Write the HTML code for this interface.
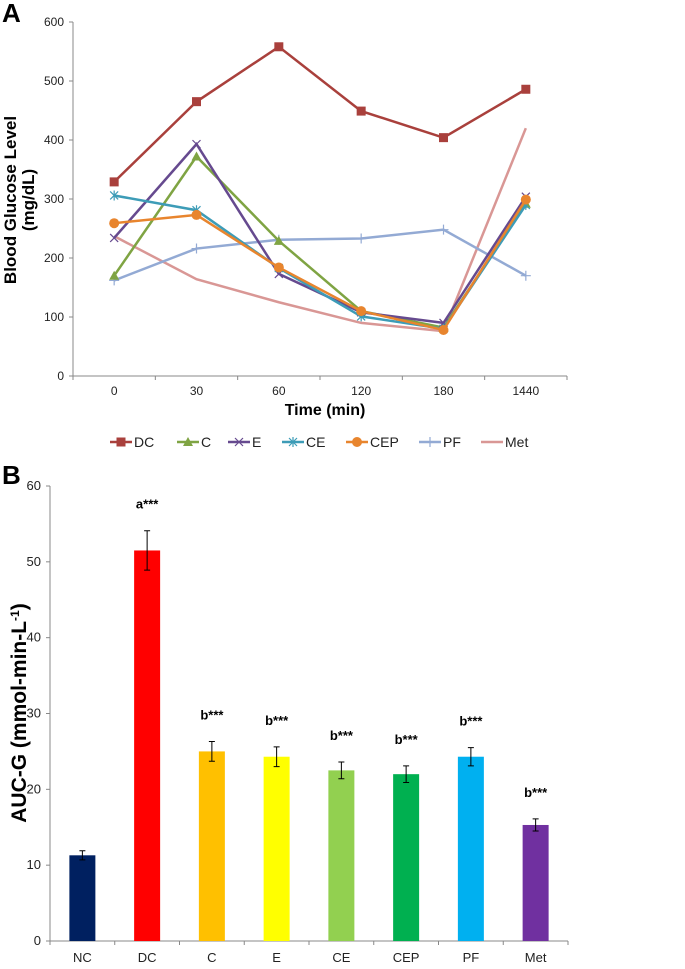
<!DOCTYPE html>
<html><head><meta charset="utf-8"><style>
body{margin:0;background:#fff;width:685px;height:964px;overflow:hidden}
svg{font-family:"Liberation Sans",sans-serif}
</style></head><body>
<svg id="chart" width="685" height="964">
<text x="2" y="22" font-size="26" font-weight="bold">A</text>
<text x="2" y="484" font-size="26" font-weight="bold">B</text>
<g id="pa"></g>
<g id="pb"></g>
</svg>
<script>
const times=["0","30","60","120","180","1440"];
const serDC=[329,465,558,449,404,486];
const serC=[170,372,229,110,82,292];
const serE=[234,393,173,108,90,304];
const serCE=[306,281,183,101,80,290];
const serCEP=[259,273,184,110,78,299];
const serPF=[162,216,231,233,248,170];
const serMet=[237,164,125,90,76,420];
const yTicksA=[0,100,200,300,400,500,600];
const groups=["NC","DC","C","E","CE","CEP","PF","Met"];
const auc=[11.3,51.5,25.0,24.3,22.5,22.0,24.3,15.3];
const aucErr=[0.6,2.6,1.3,1.3,1.1,1.1,1.2,0.8];
const sigLabels=["","a***","b***","b***","b***","b***","b***","b***"];
const yTicksB=[0,10,20,30,40,50,60];

const NS="http://www.w3.org/2000/svg";
function mk(p,t,a){const e=document.createElementNS(NS,t);for(const k in a)e.setAttribute(k,a[k]);p.appendChild(e);return e;}
// Panel A
const pa=document.getElementById('pa');
const ax0=73,ax1=567,ay0=376,ay1=22;
const bwA=(ax1-ax0)/times.length;
const xA=i=>ax0+bwA*(i+0.5);
const yA=v=>ay0-(v/600)*(ay0-ay1);
let l=mk(pa,'line',{x1:ax0,y1:ay1,x2:ax0,y2:ay0,stroke:'#888'});


l=mk(pa,'line',{x1:ax0,y1:ay0,x2:ax1,y2:ay0,stroke:'#888'});


yTicksA.forEach(v=>{mk(pa,'line',{x1:ax0-4,y1:yA(v),x2:ax0,y2:yA(v),stroke:'#888'});
 const t=mk(pa,'text',{x:ax0-9,y:yA(v)+4,'font-size':12,'text-anchor':'end',fill:'#222'});t.textContent=v;
 
 });
for(let i=0;i<=times.length;i++)mk(pa,'line',{x1:ax0+bwA*i,y1:ay0,x2:ax0+bwA*i,y2:ay0+4,stroke:'#888'});
times.forEach((c,i)=>{const t=mk(pa,'text',{x:xA(i),y:395,'font-size':12,'text-anchor':'middle',fill:'#222'});t.textContent=c;
 
 });
let tt=mk(pa,'text',{x:325,y:415,'font-size':16,'font-weight':'bold','text-anchor':'middle'});tt.textContent='Time (min)';


tt=mk(pa,'text',{x:0,y:0,'font-size':17,'font-weight':'bold','text-anchor':'middle',transform:'translate(16,200) rotate(-90)'});tt.textContent='Blood Glucose Level';


tt=mk(pa,'text',{x:0,y:0,'font-size':17,'font-weight':'bold','text-anchor':'middle',transform:'translate(34,200) rotate(-90)'});tt.textContent='(mg/dL)';


function marker(g,type,x,y,c){
 if(type==='sq')mk(g,'rect',{x:x-4.5,y:y-4.5,width:9,height:9,fill:c});
 else if(type==='tri')mk(g,'polygon',{points:`${x},${y-5} ${x+5},${y+4} ${x-5},${y+4}`,fill:c});
 else if(type==='x'){mk(g,'path',{d:`M${x-4},${y-4}L${x+4},${y+4}M${x-4},${y+4}L${x+4},${y-4}`,stroke:c,'stroke-width':1.2});}
 else if(type==='star'){mk(g,'path',{d:`M${x-4},${y-4}L${x+4},${y+4}M${x-4},${y+4}L${x+4},${y-4}M${x},${y-5}L${x},${y+5}`,stroke:c,'stroke-width':1.2});}
 else if(type==='circ')mk(g,'circle',{cx:x,cy:y,r:5,fill:c});
 else if(type==='plus'){mk(g,'path',{d:`M${x-5},${y}L${x+5},${y}M${x},${y-5}L${x},${y+5}`,stroke:c,'stroke-width':1.2});}
}
const series=[["DC",serDC,'#a9403c','sq'],["C",serC,'#7fa443','tri'],["E",serE,'#664a8f','x'],["CE",serCE,'#3d9cb7','star'],["CEP",serCEP,'#e8852e','circ'],["PF",serPF,'#93aad4','plus'],["Met",serMet,'#d99795','none']];
const drawOrder=[6,5,1,2,3,4,0];
drawOrder.forEach(si=>{const [n,d,c,m]=series[si];const g=mk(pa,'g',{});
 
 
 mk(g,'polyline',{points:d.map((v,i)=>xA(i)+','+yA(v)).join(' '),fill:'none',stroke:c,'stroke-width':2.5});
 d.forEach((v,i)=>marker(g,m,xA(i),yA(v),c));});
const legX=[110,177,228,282,346,419,481];
series.forEach(([n,d,c,m],i)=>{const g=mk(pa,'g',{});
 
 
 const x=legX[i];mk(g,'line',{x1:x,y1:442,x2:x+22,y2:442,stroke:c,'stroke-width':2.5});
 marker(g,m,x+11,442,c);
 const t=mk(g,'text',{x:x+24,y:447,'font-size':14,fill:'#222'});t.textContent=n;});
// Panel B
const pb=document.getElementById('pb');
const bx0=50,bx1=568,by0=941,by1=486;
const bwB=(bx1-bx0)/groups.length;
const xB=i=>bx0+bwB*(i+0.5);
const yB=v=>by0-(v/60)*(by0-by1);
l=mk(pb,'line',{x1:bx0,y1:by1,x2:bx0,y2:by0,stroke:'#888'});


l=mk(pb,'line',{x1:bx0,y1:by0,x2:bx1,y2:by0,stroke:'#888'});


yTicksB.forEach(v=>{mk(pb,'line',{x1:bx0-4,y1:yB(v),x2:bx0,y2:yB(v),stroke:'#888'});
 const t=mk(pb,'text',{x:bx0-9,y:yB(v)+4,'font-size':13,'text-anchor':'end',fill:'#222'});t.textContent=v;
 
 });
for(let i=0;i<=groups.length;i++)mk(pb,'line',{x1:bx0+bwB*i,y1:by0,x2:bx0+bwB*i,y2:by0+4,stroke:'#888'});
const colors=['#002060','#ff0000','#ffc000','#ffff00','#92d050','#00b050','#00b0f0','#7030a0'];
groups.forEach((gname,i)=>{const g=mk(pb,'g',{});
 
 
 const x=xB(i);mk(g,'rect',{x:x-13,y:yB(auc[i]),width:26,height:by0-yB(auc[i]),fill:colors[i]});
 const e0=yB(auc[i]+aucErr[i]),e1=yB(auc[i]-aucErr[i]);
 mk(g,'path',{d:`M${x},${e0}L${x},${e1}M${x-3},${e0}L${x+3},${e0}M${x-3},${e1}L${x+3},${e1}`,stroke:'#000','stroke-width':1});
 if(sigLabels[i]){const t=mk(g,'text',{x:x,y:e0-22,'font-size':13,'font-weight':'bold','text-anchor':'middle'});t.textContent=sigLabels[i];}
 const t=mk(pb,'text',{x:x,y:962,'font-size':13,'text-anchor':'middle',fill:'#222'});t.textContent=gname;
 
 });
tt=mk(pb,'text',{x:0,y:0,'font-size':21,'font-weight':'bold','text-anchor':'middle',transform:'translate(26,713) rotate(-90)'});
tt.innerHTML='AUC-G (mmol-min-L<tspan dy="-7" font-size="12">-1</tspan><tspan dy="7">)</tspan>';


</script>
</body></html>
